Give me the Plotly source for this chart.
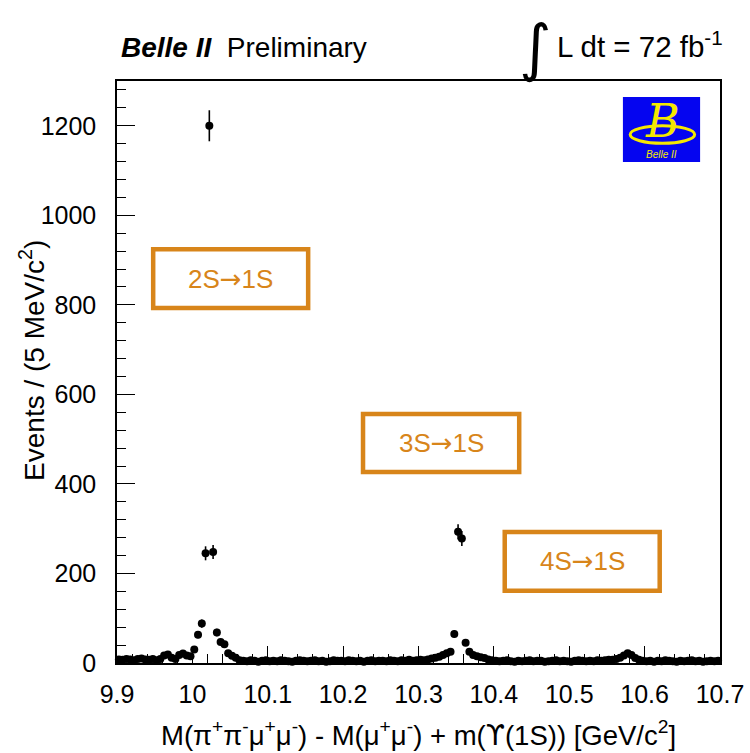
import numpy as np
import plotly.graph_objects as go

# Histogram binning: 160 bins of 5 MeV/c^2 between 9.9 and 10.7 GeV/c^2
x_lo, x_hi, bin_width = 9.9, 10.7, 0.005

# Events per bin
events = (
    [8, 7, 9, 8, 6, 9, 10, 8, 7, 9]
    + [6, 9, 17, 19, 12, 9, 18, 21, 17, 15, 30, 63, 88, 245, 1200, 248, 68, 47, 42, 22, 16, 12, 6]
    + [5, 4, 6, 5, 3, 5, 6, 4, 5, 4,
       6, 5, 4, 3, 5, 6, 5, 4, 5, 6,
       4, 5, 3, 4, 6, 5, 5, 4, 6, 5,
       4, 5, 3, 5, 6, 4, 5, 5, 4, 6,
       5, 4, 6, 5, 7, 5, 6, 7, 6]
    + [8, 10, 12, 14, 18, 22, 25, 65, 293, 278, 45, 25, 18, 15, 13, 11, 8, 6]
    + [5, 4, 5, 6, 4, 3, 5, 4, 5, 6, 4, 5, 5, 3, 4, 5, 6, 4, 5, 4, 3, 5, 6, 5, 4, 5, 4, 6, 5, 6, 7]
    + [7, 9, 12, 17, 22, 18, 11, 7, 5]
    + [4, 5, 3, 5, 4, 6, 5, 4, 3, 5, 4, 5, 6, 4, 5, 3, 4, 5, 4, 5]
)

x_tick_vals = [9.9, 10.0, 10.1, 10.2, 10.3, 10.4, 10.5, 10.6, 10.7]
x_tick_text = ["9.9", "10", "10.1", "10.2", "10.3", "10.4", "10.5", "10.6", "10.7"]
y_tick_vals = [0, 200, 400, 600, 800, 1000, 1200]
y_tick_text = ["0", "200", "400", "600", "800", "1000", "1200"]

ARROW = '<span style="font-family:DejaVu Sans">→</span>'
transition_labels = ["2S" + ARROW + "1S", "3S" + ARROW + "1S", "4S" + ARROW + "1S"]

n_bins = len(events)
centers = x_lo + bin_width * (np.arange(n_bins) + 0.5)
counts = np.array(events, dtype=float)
errors = np.sqrt(counts)

FONT = "Liberation Sans, Arial, sans-serif"
ORANGE = "#d8851a"

fig = go.Figure()
fig.add_trace(go.Scatter(
    x=centers, y=counts, mode="markers",
    marker=dict(symbol="circle", size=8, color="black"),
    error_y=dict(type="data", array=errors, visible=True,
                 thickness=1.6, width=0, color="black"),
    cliponaxis=False, showlegend=False,
))

axis_common = dict(
    showline=True, linecolor="black", linewidth=1.5, mirror=True,
    ticks="inside", tickcolor="black", tickwidth=1,
    showgrid=False, zeroline=False,
    tickfont=dict(family=FONT, size=25, color="black"),
)

fig.update_xaxes(
    range=[x_lo, x_hi], tickvals=x_tick_vals, ticktext=x_tick_text,
    ticklen=17, ticklabelstandoff=8,
    minor=dict(ticks="inside", ticklen=9, dtick=0.02, tick0=x_lo,
               tickcolor="black", tickwidth=1, showgrid=False),
    **axis_common,
)
fig.update_yaxes(
    range=[0, 1300], tickvals=y_tick_vals, ticktext=y_tick_text,
    ticklen=18, ticklabelstandoff=14,
    minor=dict(ticks="inside", ticklen=9, dtick=40, tick0=0,
               tickcolor="black", tickwidth=1, showgrid=False),
    **axis_common,
)

annotations = [
    # axis titles
    dict(text="M(π<sup>+</sup>π<sup>-</sup>μ<sup>+</sup>μ<sup>-</sup>) - M(μ<sup>+</sup>μ<sup>-</sup>) + m("
              '<span style="font-family:DejaVu Sans">ϒ</span>(1S)) [GeV/c<sup>2</sup>]',
         xref="paper", yref="paper", x=0.5, y=-0.121, xanchor="center", yanchor="middle",
         showarrow=False, font=dict(family=FONT, size=27.5, color="black")),
    dict(text="Events / (5 MeV/c<sup>2</sup>)",
         xref="paper", yref="paper", x=-0.14, y=0.52, xanchor="center", yanchor="middle",
         textangle=-90, showarrow=False, font=dict(family=FONT, size=28, color="black")),
    # header
    dict(text="<b><i>Belle II</i></b>  Preliminary",
         xref="paper", yref="paper", x=0.003, y=1.058, xanchor="left", yanchor="middle",
         showarrow=False, font=dict(family=FONT, size=28, color="black")),
    dict(text="∫",
         xref="paper", yref="paper", x=0.694, y=1.058, xanchor="center", yanchor="middle",
         showarrow=False, font=dict(family="DejaVu Sans, sans-serif", size=62, color="black")),
    dict(text="L dt = 72 fb<sup>-1</sup>",
         xref="paper", yref="paper", x=0.726, y=1.062, xanchor="left", yanchor="middle",
         showarrow=False, font=dict(family=FONT, size=29.5, color="black")),
    # logo lettering
    dict(text="<i>B</i>",
         xref="paper", yref="paper", x=0.905, y=0.932, xanchor="center", yanchor="middle",
         showarrow=False, font=dict(family="DejaVu Serif, serif", size=46, color="#f5e800")),
    dict(text="<i>Belle II</i>",
         xref="paper", yref="paper", x=0.903, y=0.874, xanchor="center", yanchor="middle",
         showarrow=False, font=dict(family=FONT, size=10, color="#f5e800")),
]

shapes = [
    # logo background and swoosh
    dict(type="rect", xref="paper", yref="paper", x0=0.839, x1=0.967, y0=0.861, y1=0.9725,
         fillcolor="#0505f0", line=dict(width=0), layer="above"),
    dict(type="circle", xref="paper", yref="paper", x0=0.851, x1=0.958, y0=0.893, y1=0.923,
         line=dict(color="#f5e800", width=3), layer="above"),
]

# transition boxes
box_pos = [
    (0.060, 0.317, 0.610, 0.711),
    (0.408, 0.667, 0.328, 0.428),
    (0.643, 0.900, 0.124, 0.225),
]
for label, (bx0, bx1, by0, by1) in zip(transition_labels, box_pos):
    shapes.append(dict(type="rect", xref="paper", yref="paper",
                       x0=bx0, x1=bx1, y0=by0, y1=by1,
                       line=dict(color=ORANGE, width=4.5), fillcolor="rgba(0,0,0,0)"))
    annotations.append(dict(text=label, xref="paper", yref="paper",
                            x=(bx0 + bx1) / 2, y=(by0 + by1) / 2,
                            xanchor="center", yanchor="middle", showarrow=False,
                            font=dict(family=FONT, size=26, color=ORANGE)))

fig.update_layout(
    width=750, height=753,
    margin=dict(l=117, r=30, t=81, b=90, autoexpand=False),
    paper_bgcolor="white", plot_bgcolor="white",
    annotations=annotations, shapes=shapes,
    showlegend=False,
)

fig.write_html("out.html")
